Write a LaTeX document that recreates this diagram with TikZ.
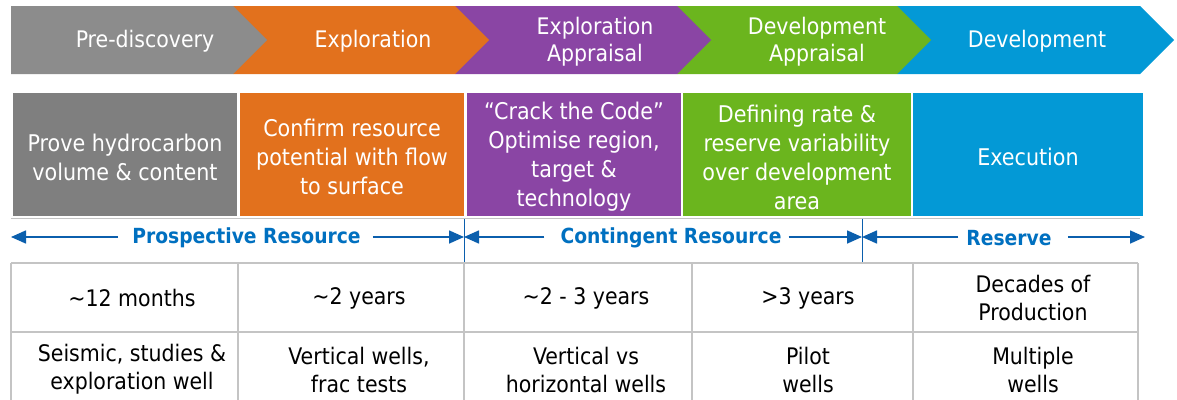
\documentclass[tikz,border=0pt]{standalone}
\usepackage{fontspec}
\setmainfont{DejaVu Sans Condensed}
\usetikzlibrary{arrows.meta}
\definecolor{cgray}{HTML}{8C8C8C}
\definecolor{bgray}{HTML}{7F7F7F}
\definecolor{corange}{HTML}{E2711D}
\definecolor{cpurple}{HTML}{8A45A4}
\definecolor{cgreen}{HTML}{6BB51E}
\definecolor{cblue}{HTML}{0399D6}
\definecolor{arrblue}{HTML}{0B5FAD}
\definecolor{labblue}{HTML}{0070C0}
\definecolor{gridgray}{HTML}{C4C4C4}
\tikzset{
  chevtext/.style={text=white, font=\fontsize{22.8}{27}\selectfont, align=center, inner sep=0pt},
  stagebox/.style={minimum width=#1, minimum height=123pt, inner sep=0pt},
  boxtext/.style={text=white, font=\fontsize{23}{29}\selectfont, align=center, inner sep=0pt},
  cell/.style={text=black, font=\fontsize{22.8}{28}\selectfont, align=center, inner sep=0pt},
  gridline/.style={draw=gridgray, line width=1.5pt},
  arr/.style={draw=arrblue, line width=1.6pt, -{Triangle[length=15pt,width=13pt]}},
  divline/.style={draw=arrblue, line width=1pt},
  lab/.style={text=labblue, font=\bfseries\fontsize{20.8}{24}\selectfont, inner sep=0pt}
}
\begin{document}
\begin{tikzpicture}[x=1pt,y=-1pt]
\useasboundingbox (0,0) rectangle (1177,399);
\fill[white] (0,0) rectangle (1177,399);
% chevrons (right to left)
\fill[cblue] (897,6) -- (1140,6) -- (1174,40) -- (1140,74) -- (897,74) -- cycle;
\fill[cgreen] (677,6) -- (897,6) -- (931,40) -- (897,74) -- (677,74) -- cycle;
\fill[cpurple] (455,6) -- (677,6) -- (711,40) -- (677,74) -- (455,74) -- cycle;
\fill[corange] (233,6) -- (455,6) -- (489,40) -- (455,74) -- (233,74) -- cycle;
\fill[cgray] (11,6) -- (233,6) -- (267,40) -- (233,74) -- (11,74) -- cycle;
\node[chevtext] (c1) at (145,41.5) {Pre-discovery};
\node[chevtext] (c2) at (373,41.5) {Exploration};
\node[chevtext] (c3) at (595,42) {Exploration\\Appraisal};
\node[chevtext] (c4) at (817,42) {Development\\Appraisal};
\node[chevtext] (c5) at (1037,41.5) {Development};
% stage boxes
\node[stagebox=224pt, fill=bgray] (b1) at (125,154.5) {};
\node[stagebox=224pt, fill=corange] (b2) at (352,154.5) {};
\node[stagebox=214pt, fill=cpurple] (b3) at (574,154.5) {};
\node[stagebox=228pt, fill=cgreen] (b4) at (797,154.5) {};
\node[stagebox=230pt, fill=cblue] (b5) at (1028,154.5) {};
\node[boxtext] (b1t) at ([yshift=-2.5pt]b1.center) {Prove hydrocarbon\\volume \& content};
\node[boxtext] (b2t) at ([yshift=-2.5pt]b2.center) {Confirm resource\\potential with flow\\to surface};
\node[boxtext] (b3t) at ([yshift=-2.5pt]b3.center) {“Crack the Code”\\Optimise region,\\target \&\\technology};
\node[boxtext] (b4t) at ([yshift=-2.5pt]b4.center) {Defining rate \&\\reserve variability\\over development\\area};
\node[boxtext] (b5t) at ([yshift=-2.5pt]b5.center) {Execution};
% thin separator line
\draw[gridline, line width=1.2pt] (11,218.5) -- (1140,218.5);
% resource classification row
\coordinate (d0) at (11,237);
\coordinate (d1) at (464,237);
\coordinate (d2) at (862,237);
\coordinate (d3) at (1145,237);
\draw[divline] (464,219) -- (464,263);
\draw[divline] (862,219) -- (862,263);
\node[lab] (l1) at (246.5,238) {Prospective Resource};
\node[lab] (l2) at (671,238) {Contingent Resource};
\node[lab] (l3) at (1009,238) {Reserve};
\draw[arr] ([xshift=-14pt]l1.west |- d0) -- (d0);
\draw[arr] ([xshift=12pt]l1.east |- d1) -- (d1);
\draw[arr] ([xshift=-16pt]l2.west |- d1) -- (d1);
\draw[arr] ([xshift=7pt]l2.east |- d2) -- (d2);
\draw[arr] ([xshift=-8pt]l3.west |- d2) -- (d2);
\draw[arr] ([xshift=16pt]l3.east |- d3) -- (d3);
% table grid
\draw[gridline] (11,263) -- (1138,263);
\draw[gridline] (11,332) -- (1138,332);
\foreach \x in {11,238,464,692,913,1138} \draw[gridline] (\x,263) -- (\x,400);
% table row 1
\node[cell] (t11) at (132,298) {\textasciitilde 12 months};
\node[cell] (t12) at (359,298) {\textasciitilde 2 years};
\node[cell] (t13) at (586,298) {\textasciitilde 2 - 3 years};
\node[cell] (t14) at (808,298) {\textgreater 3 years};
\node[cell] (t15) at (1033,297.5) {Decades of\\Production};
% table row 2
\node[cell] (t21) at (132,369.5) {Seismic, studies \&\\exploration well};
\node[cell] (t22) at (359,369.5) {Vertical wells,\\frac tests};
\node[cell] (t23) at (586,369.5) {Vertical vs\\horizontal wells};
\node[cell] (t24) at (808,369.5) {Pilot\\wells};
\node[cell] (t25) at (1033,369.5) {Multiple\\wells};
\end{tikzpicture}
\end{document}
